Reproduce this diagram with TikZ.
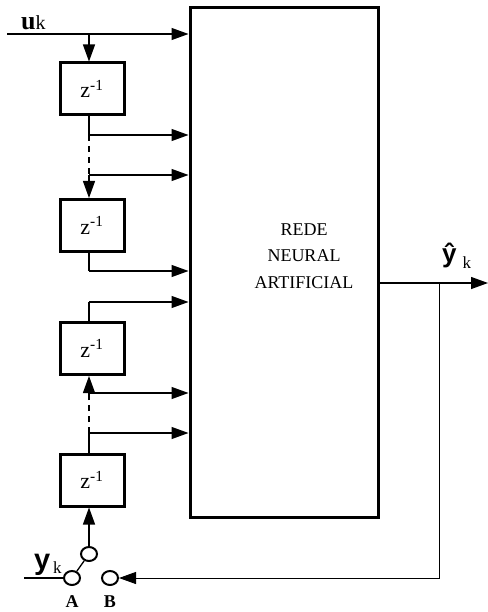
\documentclass[tikz,border=0pt]{standalone}
\usepackage{fontspec}
\setmainfont{Liberation Serif}
\setsansfont{Liberation Sans}
\usetikzlibrary{arrows.meta, shapes.geometric}

\begin{document}
\begin{tikzpicture}[x=1bp, y=-1bp,
    rna/.style={draw, line width=3bp, minimum width=188bp, minimum height=509bp, inner sep=0pt},
    rnatext/.style={align=center, font=\fontsize{18bp}{26.5bp}\selectfont},
    delay/.style={draw, line width=3bp, minimum width=64bp, minimum height=52bp, inner sep=0pt,
      font=\fontsize{22bp}{22bp}\selectfont},
    sw/.style={draw, line width=2bp, ellipse, minimum width=16bp, minimum height=14bp, inner sep=0pt},
    wire/.style={line width=1.3bp},
    arr/.style={wire, -{Triangle[length=17bp, width=12bp]}},
    lbl/.style={inner sep=0pt}
  ]
  \useasboundingbox (0,0) rectangle (488,612);
  % network and delay line
  \node[rna] (rna) at (284,262.5) {};
  \node[rnatext] (rnatxt) at (304,256) {REDE\\NEURAL\\ARTIFICIAL};
  \node[delay] (d1) at (92,89) {z\textsuperscript{-1}};
  \node[delay] (d2) at (92,225.5) {z\textsuperscript{-1}};
  \node[delay] (d3) at (92,348.5) {z\textsuperscript{-1}};
  \node[delay] (d4) at (92,480) {z\textsuperscript{-1}};
  % switch
  \node[sw] (swA) at (72,578) {};
  \node[sw] (swC) at (89,554) {};
  \node[sw] (swB) at (110,578) {};
  % labels
  \node[lbl, anchor=base west] (ulab) at (21,30) {{\fontsize{26bp}{26bp}\selectfont\bfseries u}{\fontsize{20bp}{20bp}\selectfont k}};
  \node[lbl, anchor=base west] (ylab) at (34,569) {{\fontsize{29bp}{29bp}\selectfont\sffamily\bfseries y}\raisebox{-4bp}{\fontsize{17bp}{17bp}\selectfont\,k}};
  \node[lbl, anchor=base west] (yhat) at (442,262) {{\fontsize{26bp}{26bp}\selectfont\sffamily\bfseries\^{y}}\raisebox{-6bp}{\fontsize{17bp}{17bp}\selectfont\hspace{6bp}k}};
  \node[lbl, font=\fontsize{18bp}{18bp}\selectfont\bfseries] (labA) at (72,602) {A};
  \node[lbl, font=\fontsize{18bp}{18bp}\selectfont\bfseries] (labB) at (110,602) {B};
  % taps
  \coordinate (uin) at (7,34);
  \coordinate (t1) at (89,135);
  \coordinate (t2) at (89,175);
  \coordinate (t3) at (89,271);
  \coordinate (t4) at (89,302);
  \coordinate (t5) at (89,393);
  \coordinate (t6) at (89,433);
  \coordinate (yin) at (24,578);
  \coordinate (yout) at (488,283);
  \coordinate (fbtop) at (439,283);
  \coordinate (fbbot) at (439,578);

  \draw[arr] (uin) -- (uin -| rna.west);
  \draw[arr] (uin -| t1) -- (d1.north -| t1);
  \draw[wire] (d1.south -| t1) -- (t1);
  \draw[wire, dash pattern=on 6bp off 5bp] (t1) -- (t2);
  \draw[arr] (t2) -- (d2.north -| t2);
  \draw[wire] (d2.south -| t3) -- (t3);
  \draw[wire] (t4) -- (d3.north -| t4);
  \draw[arr] (t5) -- (d3.south -| t5);
  \draw[wire, dash pattern=on 6bp off 5bp] (t6) -- (t5);
  \draw[wire] (d4.north -| t6) -- (t6);
  \foreach \t in {t1,t2,t3,t4,t5,t6}
    \draw[arr] (\t) -- (\t -| rna.west);
  % switch and feedback
  \draw[wire] (yin) -- (swA);
  \draw[wire] (swA) -- (swC);
  \draw[arr] (swC) -- (d4.south -| swC);
  \draw[arr] (rna.east |- yout) -- (yout);
  \draw[arr, line width=1bp] (fbtop) -- (fbbot) -- (swB);
\end{tikzpicture}
\end{document}
